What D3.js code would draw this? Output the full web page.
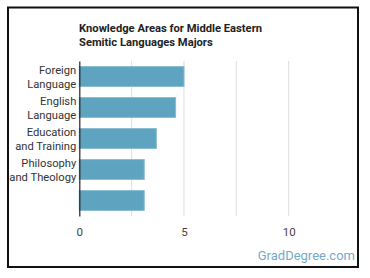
<!DOCTYPE html>
<html>
<head>
<meta charset="utf-8">
<script src="https://cdn.jsdelivr.net/npm/d3@7"></script>
<style>
  body { margin: 0; background: #fff; }
  svg { font-family: Roboto, "Noto Sans", sans-serif; }
</style>
</head>
<body>
<div id="chart"></div>
<script>
// chart data
const areas = [["Foreign", "Language"], ["English", "Language"], ["Education", "and Training"], ["Philosophy", "and Theology"], [""]];
const scores = [5.0, 4.6, 3.68, 3.1, 3.1];
const tickValues = [0, 5, 10];
const gridValues = [2.5, 5, 7.5, 10];
const titleLines = ["Knowledge Areas for Middle Eastern", "Semitic Languages Majors"];

const W = 370, H = 278;
const margin = {top: 61, left: 79.3, bottom: 62, right: 29};

const svg = d3.select("#chart")
  .append("svg")
    .attr("width", W)
    .attr("height", H);

// frame
svg.append("rect")
    .attr("x", 8).attr("y", 7.5)
    .attr("width", 350).attr("height", 259.5)
    .attr("fill", "#fff")
    .attr("stroke", "#111")
    .attr("stroke-width", 2);

// title
svg.append("text")
    .attr("x", 79)
    .attr("y", 32)
    .style("font-size", "11.2px")
    .style("font-weight", "bold")
    .attr("fill", "#222")
  .selectAll("tspan")
  .data(titleLines)
  .enter().append("tspan")
    .attr("x", 79)
    .attr("dy", (d, i) => i ? 14 : 0)
    .text(d => d);

const x = d3.scaleLinear()
    .domain([0, 12.5])
    .range([margin.left, W - margin.right]);

const y = d3.scaleBand()
    .domain(d3.range(scores.length))
    .range([margin.top, H - margin.bottom])
    .paddingInner(0.36)
    .paddingOuter(0.18);

// gridlines
svg.append("g")
  .selectAll("line")
  .data(gridValues)
  .enter().append("line")
    .attr("x1", d => x(d)).attr("x2", d => x(d))
    .attr("y1", margin.top).attr("y2", H - margin.bottom)
    .attr("stroke", "#ddd")
    .attr("stroke-width", 1);

// bars
svg.append("g")
  .selectAll("rect")
  .data(scores)
  .enter().append("rect")
    .attr("x", x(0))
    .attr("y", (d, i) => y(i))
    .attr("width", d => x(d) - x(0))
    .attr("height", y.bandwidth())
    .attr("fill", "#5ea3c0")
    .attr("stroke", "#86bbd3")
    .attr("stroke-width", 1);

// x axis labels
const xAxis = svg.append("g")
    .attr("transform", `translate(0,${H - margin.bottom})`)
    .call(d3.axisBottom(x).tickValues(tickValues).tickSize(0).tickPadding(12));
xAxis.select(".domain").remove();
xAxis.selectAll("text")
    .style("font-size", "11.5px")
    .style("font-family", "Roboto, sans-serif")
    .attr("fill", "#444");

// y axis
const yAxis = svg.append("g")
    .attr("transform", `translate(${x(0)},0)`)
    .call(d3.axisLeft(y).tickSize(0).tickFormat(""));
yAxis.select(".domain")
    .attr("stroke", "#222")
    .attr("stroke-width", 1.2);

svg.append("g")
  .selectAll("text")
  .data(areas)
  .enter().append("text")
    .attr("text-anchor", "end")
    .attr("fill", "#333")
    .style("font-size", "11.2px")
    .attr("y", (d, i) => y(i) + y.bandwidth() / 2 - (d.length - 1) * 7 + 4)
  .selectAll("tspan")
  .data(d => d)
  .enter().append("tspan")
    .attr("x", x(0) - 3)
    .attr("dy", (d, i) => i ? 14 : 0)
    .text(d => d);

// watermark
svg.append("text")
    .attr("x", 355)
    .attr("y", 260)
    .attr("text-anchor", "end")
    .attr("fill", "#75a9c8")
    .style("font-size", "13px")
    .text("GradDegree.com");
</script>
</body>
</html>
